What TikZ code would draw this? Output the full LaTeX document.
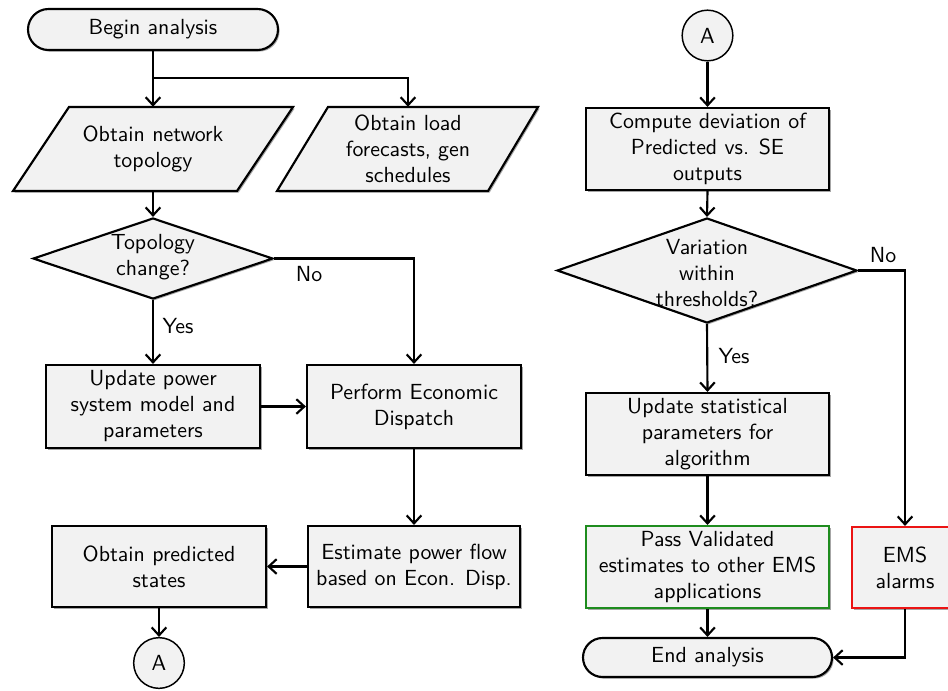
\documentclass[tikz,border=0pt]{standalone}
\usepackage{fontspec}
\setsansfont{lmsans10-regular.otf}
\usetikzlibrary{arrows.meta,shapes.geometric,shapes.misc,shadows}
\definecolor{boxfill}{RGB}{242,242,242}
\definecolor{okgreen}{RGB}{30,140,30}
\definecolor{alarmred}{RGB}{235,20,20}
\begin{document}
\begin{tikzpicture}[x=0.75pt,y=-0.75pt,
  font=\sffamily\fontsize{16.4}{19.5}\selectfont,
  every node/.style={inner sep=0pt},
  boxshadow/.style={drop shadow={shadow xshift=1.2pt,shadow yshift=-1.2pt,opacity=0.35,fill=black}},
  proc/.style={rectangle,draw=black,line width=1.6pt,fill=boxfill,align=center,boxshadow},
  term/.style={rounded rectangle,draw=black,line width=1.6pt,fill=boxfill,boxshadow},
  decision/.style={diamond,draw=black,line width=1.6pt,fill=boxfill,boxshadow},
  iobox/.style={draw=black,line width=1.6pt,fill=boxfill,line join=miter,boxshadow},
  plaintext/.style={align=center},
  conn/.style={circle,draw=black,line width=1.1pt,fill=boxfill,minimum size=38pt},
  flow/.style={line width=1.6pt,-{Straight Barb[length=6pt,width=11pt]}},
  answer/.style={anchor=center}
]
\useasboundingbox (0,0) rectangle (948,690);

% ---------------- left column ----------------
\node[term,minimum width=187.5pt,minimum height=30.75pt] (begin) at (153,29.5) {Begin analysis};

% input parallelograms
\coordinate (c1) at (153,149);
\path[iobox] ([shift={(-84,-42)}]c1) -- ([shift={(140,-42)}]c1) -- ([shift={(84,42)}]c1) -- ([shift={(-140,42)}]c1) -- cycle;
\node[plaintext,minimum width=150pt,minimum height=63pt] (p1) at (c1) {Obtain network\\topology};

\coordinate (c2) at (408,149);
\path[iobox] ([shift={(-80,-42)}]c2) -- ([shift={(130,-42)}]c2) -- ([shift={(80,42)}]c2) -- ([shift={(-131,42)}]c2) -- cycle;
\node[plaintext,minimum width=150pt,minimum height=63pt] (p2) at (c2) {Obtain load\\forecasts, gen\\schedules};

\node[decision,minimum width=180pt,minimum height=60.75pt] (d1) at (153,258.5) {};
\node[plaintext] (d1t) at (153,257) {Topology\\change?};

\node[proc,minimum width=160.5pt,minimum height=62.25pt] (upd) at (153,406.5) {Update power\\system model and\\parameters};
\node[proc,minimum width=160.5pt,minimum height=62.25pt] (ped) at (414,406.5) {Perform Economic\\Dispatch};
\node[proc,minimum width=159pt,minimum height=60.75pt] (est) at (414,566.5) {Estimate power flow\\based on Econ. Disp.};
\node[proc,minimum width=160.5pt,minimum height=60.75pt] (ops) at (159,566.5) {Obtain predicted\\states};
\node[conn] (a1) at (159,663) {A};

\coordinate (j1) at (153,78);
\draw[line width=1.6pt] (begin.south) -- (j1);
\draw[flow] (j1) -- (p1.north);
\draw[flow] (j1) -| (p2.north);
\draw[flow] (p1.south) -- (d1.north);
\draw[flow] (d1.east) -| (ped.north);
\draw[flow] (d1.south) -- (upd.north);
\draw[flow] (upd.east) -- (ped.west);
\draw[flow] (ped.south) -- (est.north);
\draw[flow] (est.west) -- (ops.east);
\draw[flow] (ops.south) -- (a1.north);
\node[answer] (no1) at (309,274) {No};
\node[answer] (yes1) at (178,326) {Yes};

% ---------------- right column ----------------
\node[conn] (a2) at (707.5,35.5) {A};
\node[proc,minimum width=182.25pt,minimum height=61.5pt] (cmp) at (707.5,149) {Compute deviation of\\Predicted vs. SE\\outputs};
\node[decision,minimum width=225pt,minimum height=78.75pt] (d2) at (707,270.5) {};
\node[plaintext] (d2t) at (707,273) {Variation\\within\\thresholds?};
\node[proc,minimum width=182.25pt,minimum height=61.5pt] (ust) at (707.5,434) {Update statistical\\parameters for\\algorithm};
\node[proc,draw=okgreen,minimum width=182.25pt,minimum height=61.5pt] (pv) at (707.5,567) {Pass Validated\\estimates to other EMS\\applications};
\node[proc,draw=alarmred,minimum width=79.5pt,minimum height=60.75pt] (ems) at (905,567.5) {EMS\\alarms};
\node[term,minimum width=186.75pt,minimum height=29.25pt] (end) at (707.5,657.5) {End analysis};

\draw[flow] (a2.south) -- (cmp.north);
\draw[flow] (cmp.south) -- (d2.north);
\draw[flow] (d2.east) -| (ems.north);
\draw[flow] (d2.south) -- (ust.north);
\draw[flow] (ust.south) -- (pv.north);
\draw[flow] (pv.south) -- (end.north);
\draw[flow] (ems.south) |- (end.east);
\node[answer] (no2) at (883,255) {No};
\node[answer] (yes2) at (734,356) {Yes};
\end{tikzpicture}
\end{document}
